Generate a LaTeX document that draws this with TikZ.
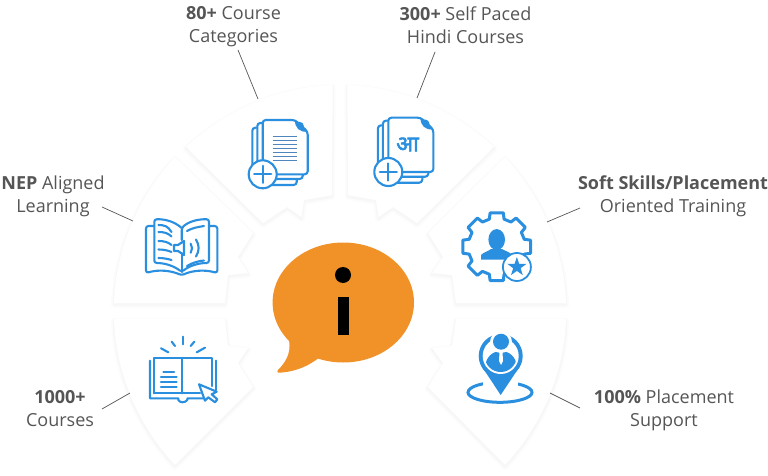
\documentclass[tikz,border=0pt]{standalone}
\usepackage{fontspec}
\setmainfont{Open Sans}
\newfontfamily\devfont[Script=Devanagari,FakeBold=2.5]{Noto Sans}
\usetikzlibrary{calc}

\definecolor{iconblue}{HTML}{2A8FDF}
\definecolor{lineblue}{HTML}{4F86BE}
\definecolor{bubbleorange}{HTML}{F09228}
\definecolor{labelgray}{HTML}{555555}

\tikzset{
  wedge/.style={fill=white,
    preaction={draw=black!1.2,line width=6pt,line join=round,transform canvas={yshift=-2pt}},
    preaction={draw=black!3,line width=2.5pt,line join=round,transform canvas={yshift=-1.5pt}}},
  label/.style={align=center,text=labelgray,font=\fontsize{18}{23}\selectfont},
  leader/.style={draw=labelgray,line width=0.7pt},
  icon/.style={draw=iconblue,line width=2.1pt,line cap=round,line join=round},
  page/.style={icon,fill=white,rounded corners=3pt}
}

% stack of pages with a plus badge
\newcommand{\docstack}[2]{%
  \begin{scope}[shift={(#1,#2)}]
    \draw[page] (-10.4,7.7) rectangle (34,65);
    \draw[page] (-5.4,3) rectangle (40,59);
    \draw[page] (0,0) -- (32.3,0) -- (45,11.7) -- (45,54.3) -- (0,54.3) -- cycle;
    \fill[iconblue] (32.3,0) .. controls (32,8) and (37,12.5) .. (45,11.7) -- cycle;
    \draw[icon,fill=white] (0,54.3) circle[radius=14pt];
    \draw[icon,line width=2.2pt] (-8.5,54.3) -- (8.5,54.3) (0,45.8) -- (0,62.8);
  \end{scope}}

\begin{document}
\begin{tikzpicture}[x=1pt,y=-1pt]
  \useasboundingbox (0,0) rectangle (768,476);

  % wedges
  \path[wedge] (186,147) .. controls (226.1,109.4) and (277.7,86.8) .. (332.7,85) -- (332,195)
    -- (304,200) -- (301.7,217) -- (287,207) -- (263,223) -- cycle;
  \path[wedge] (494,147) .. controls (453.9,109.4) and (402.3,86.8) .. (347.3,85) -- (348,195)
    -- (376,200) -- (378.3,217) -- (393,207) -- (417,223) -- cycle;
  \path[wedge] (175,157) .. controls (137.8,196.8) and (115.9,248.5) .. (114,303) -- (225,303)
    -- (228,275) -- (248,273) -- (238,257) -- (253,233) -- cycle;
  \path[wedge] (114,319) .. controls (115.9,373.5) and (137.8,425.2) .. (175,465) -- (253,387)
    -- (238,363) -- (248,348) -- (228,346) -- (225,319) -- cycle;
  \path[wedge] (505,157) .. controls (542.2,196.8) and (564.1,248.5) .. (566,303) -- (456,303)
    -- (452,275) -- (432,273) -- (443,257) -- (428,233) -- cycle;
  \path[wedge] (566,319) .. controls (564.1,373.5) and (542.2,425.2) .. (505,465) -- (428,387)
    -- (443,363) -- (432,348) -- (452,346) -- (456,319) -- cycle;

  % labels
  \node[label] (catlabel) at (233.5,27) {\textbf{80+} Course\\Categories};
  \node[label] (hindilabel) at (465.5,25.5) {\textbf{300+} Self Paced\\Hindi Courses};
  \node[label] (neplabel) at (53,196.5) {\textbf{NEP} Aligned\\Learning};
  \node[label] (softlabel) at (673,196.5) {\textbf{Soft Skills/Placement}\\Oriented Training};
  \node[label] (courselabel) at (60,409) {\textbf{1000+}\\Courses};
  \node[label] (placelabel) at (664,410) {\textbf{100\%} Placement\\Support};

  % leader lines
  \coordinate (catout) at (238,50);   \coordinate (catin) at (258,99);
  \coordinate (hindiout) at (435,52); \coordinate (hindiin) at (417,98);
  \coordinate (nepout) at (102,207);  \coordinate (nepin) at (133,221);
  \coordinate (softout) at (580,208); \coordinate (softin) at (547,222);
  \coordinate (courseout) at (102,409); \coordinate (coursein) at (130,393);
  \coordinate (placeout) at (580,408);  \coordinate (placein) at (550,393);
  \draw[leader] (catout) -- (catin);
  \draw[leader] (hindiout) -- (hindiin);
  \draw[leader] (nepout) -- (nepin);
  \draw[leader] (softout) -- (softin);
  \draw[leader] (courseout) -- (coursein);
  \draw[leader] (placeout) -- (placein);

  % centre bubble
  \fill[bubbleorange] (343.3,302.5) ellipse[x radius=70.7pt,y radius=60pt];
  \fill[bubbleorange] (288,335) .. controls (292,350) and (288,360) .. (278,370)
    .. controls (276,373) and (279,373) .. (282,372.5)
    .. controls (298,371) and (310,365) .. (320,357) -- cycle;
  \fill[black] (343,275) circle[radius=8pt];
  \fill[black] (338.3,296.7) rectangle (349.3,335);

  % page icons
  \docstack{262.7}{120}
  \foreach \y in {136.7,140.7,...,161} {
    \draw[lineblue,line width=1.5pt] (272.7,\y) -- (297.3,\y);
  }
  \docstack{388.3}{117.7}
  \node[text=iconblue,inner sep=0pt] (hindichar) at (407.5,144.5) {\devfont\fontsize{22}{22}\selectfont आ};

  % book with speaker
  \draw[icon,rounded corners=2.5pt] (154,226) -- (146,226) -- (146,273)
    .. controls (160,269) and (172,271) .. (181.7,275.3)
    .. controls (191,271) and (203,269) .. (217.3,273) -- (217.3,226) -- (209,226);
  \draw[icon,rounded corners=2.5pt] (181.7,228) .. controls (175,222) and (166,219) .. (154.3,219.3) -- (154.3,263)
    .. controls (165,263) and (174,266) .. (181.7,272) .. controls (189,266) and (198,263) .. (209,263)
    -- (209,219.3) .. controls (197,219) and (188,222) .. (181.7,228) -- (181.7,240);
  \draw[icon] (181.7,255) -- (181.7,272);
  \foreach \ya/\yb in {225/232,232/236.5,241/245,249.5/252,258/260} {
    \draw[icon] (158.5,\ya) .. controls (164,\ya) and (168,\ya+1) .. (171.5,\yb);
  }
  \draw[icon] (187,231) .. controls (192,228) and (198,227) .. (204,226);
  \draw[icon] (187,266) .. controls (192,263) and (198,261) .. (204,260.5);
  \draw[icon,fill=white] (184,241) -- (178,245) -- (174,245) -- (174,251) -- (178,251) -- (184,255) -- cycle;
  \draw[icon] (190.7,243.7) .. controls (192.5,246.5) and (192.5,250) .. (190.7,252.7);
  \draw[icon] (196,239.5) .. controls (199.5,245) and (199.5,251) .. (196,256.5);

  % book with cursor
  \draw[icon] (182.7,336.7) -- (182.7,344.3);
  \draw[icon] (171.7,341.7) -- (175,346);
  \draw[icon] (194.3,341.7) -- (190.7,346);
  \draw[icon] (161,348.3) -- (168.3,352.3);
  \draw[icon] (205,347.7) -- (196.7,352.3);
  \draw[icon] (154,393.3) -- (154,358.3) -- (211.7,358.3) -- (211.7,386);
  \draw[icon] (154,393.3) -- (200,393.3);
  \draw[icon] (182.3,358.3) -- (182.3,393.3);
  \draw[icon] (150,360.7) -- (150,398.3) -- (178.3,398.3) -- (178.3,400)
    .. controls (180,403) and (185,403) .. (187.3,400) -- (187.3,398.3) -- (207,398.3);
  \draw[icon] (215.7,360.7) -- (215.7,390);
  \draw[icon] (163.3,371.7) -- (174,371.7);
  \foreach \y in {376.7,381.7,386.7} {
    \draw[icon] (161,\y) -- (176.7,\y);
  }
  \draw[icon,fill=white] (199,384.3) -- (216.7,391.7) -- (211.7,394.3) -- (217.3,399.3)
    -- (215,402.3) -- (208.3,397.3) -- (205,400.7) -- cycle;

  % gear with person and star
  \begin{scope}[shift={(496.7,246.7)}]
    \draw[draw=iconblue,line width=3pt,line join=round,fill=white]
      (-16:28.5) \foreach \a in {0,45,...,315} {
        -- (\a-15:28.5) -- (\a-11:34.5) -- (\a+11:34.5) -- (\a+15:28.5)
      } -- cycle;
  \end{scope}
  \fill[iconblue] (496.7,239.6) ellipse[x radius=8.3pt,y radius=10.5pt];
  \fill[iconblue] (481,259.5) -- (481,255) .. controls (483,252.5) and (488,251.5) .. (491,249)
    -- (502,249) .. controls (505,251) and (510,252) .. (512,255) -- (512,259.5) -- cycle;
  \draw[iconblue,line width=1.8pt,fill=white] (516.9,267) circle[radius=14pt];
  \begin{scope}[shift={(516.9,267)}]
    \fill[iconblue] (270:10) -- (306:3.9) -- (342:10) -- (18:3.9) -- (54:10) -- (90:3.9)
      -- (126:10) -- (162:3.9) -- (198:10) -- (234:3.9) -- cycle;
  \end{scope}

  % pin with person
  \draw[draw=iconblue,line width=3pt] (500,392.3) ellipse[x radius=32pt,y radius=10pt];
  \fill[white] (483,378) rectangle (518,386);
  \fill[iconblue] (500.7,356) circle[radius=22pt];
  \fill[iconblue] (481.5,366) -- (520,366) -- (500.7,395) -- cycle;
  \fill[white] (500.7,356) circle[radius=18pt];
  \begin{scope}
    \clip (500.7,356) circle[radius=16pt];
    \fill[iconblue] (501,366) ellipse[x radius=15.5pt,y radius=15pt];
  \end{scope}
  \fill[white] (501,342) circle[radius=11pt];
  \fill[iconblue] (501,341.7) circle[radius=8pt];
  \fill[white] (499.5,352) -- (502.5,352) -- (503,361) -- (501,365) -- (499,361) -- cycle;
\end{tikzpicture}
\end{document}
